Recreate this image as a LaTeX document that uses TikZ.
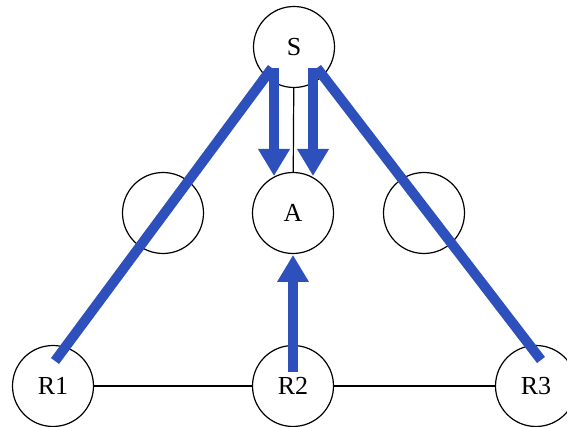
\documentclass[tikz,border=0pt]{standalone}
\usepackage{fontspec}
\setmainfont{Liberation Serif}
\usetikzlibrary{arrows.meta}
\definecolor{flow}{RGB}{45,80,188}
\begin{document}
\begin{tikzpicture}[x=1pt,y=-1pt,
  nd/.style={circle,draw,line width=1.2pt,minimum size=81pt,inner sep=0pt,font=\fontsize{26}{26}\selectfont},
  link/.style={line width=1.2pt},
  flowline/.style={line width=10pt,draw=flow},
  flowarrow/.style={flowline,-{Triangle[width=30pt,length=27pt]}}]
\useasboundingbox (0,0) rectangle (567,427);
\clip (0,0) rectangle (567,427);
\fill[white] (0,0) rectangle (567,427);
% nodes
\node[nd] (S)  at (294,47)  {S};
\node[nd] (L)  at (163,213) {};
\node[nd] (A)  at (293,213) {A};
\node[nd] (Rt) at (424,213) {};
\node[nd] (R1) at (53,386)  {R1};
\node[nd] (R2) at (293,386) {R2};
\node[nd] (R3) at (536,386) {R3};
% thin links
\draw[link] (S) -- (A);
\draw[link] (R1) -- (R2);
\draw[link] (R2) -- (R3);
% flow coordinates
\coordinate (Sdl) at (272,68);
\coordinate (Sdr) at (317,68);
\coordinate (Sal) at (274,68);
\coordinate (Sar) at (313,68);
\coordinate (Atl) at (274,176);
\coordinate (Atr) at (313,176);
\coordinate (Ab)  at (293,255);
\coordinate (R1t) at (55,361);
\coordinate (R2t) at (293,372);
\coordinate (R3t) at (541,360);
% blue flows
\draw[flowline] (Sdl) -- (R1t);
\draw[flowline] (Sdr) -- (R3t);
\draw[flowarrow] (Sal) -- (Atl);
\draw[flowarrow] (Sar) -- (Atr);
\draw[flowarrow] (R2t) -- (Ab);
\end{tikzpicture}
\end{document}
